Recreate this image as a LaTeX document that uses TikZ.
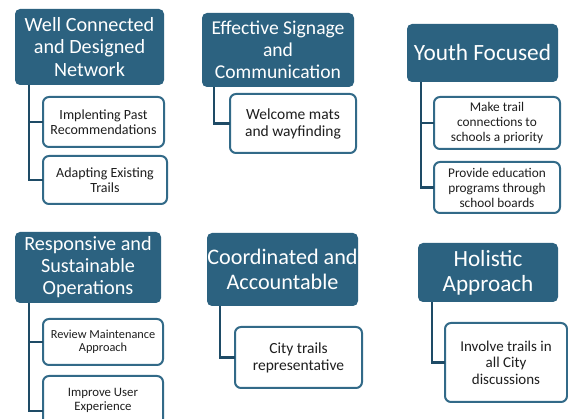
\documentclass[tikz,border=0pt]{standalone}
\usepackage{fontspec}
\setmainfont{Carlito}
\definecolor{hdr}{RGB}{44,98,128}
\definecolor{cbord}{RGB}{50,106,136}
\definecolor{conn}{RGB}{30,75,102}
\definecolor{ctext}{RGB}{30,30,30}
\tikzset{
  hdrbox/.style={fill=hdr, rounded corners=5pt, text=white, align=center, inner sep=0pt, outer sep=0pt},
  childbox/.style={draw=cbord, line width=2pt, fill=white, rounded corners=6pt, text=ctext, align=center, inner sep=0pt, outer sep=0pt},
  connline/.style={draw=conn, line width=2.6pt}
}
\begin{document}
\begin{tikzpicture}[x=1pt,y=-1pt]
\useasboundingbox (0,0) rectangle (568,419);
\clip (0,0) rectangle (568,419);
\fill[white] (0,0) rectangle (568,419);

% Column 1 top
\node[hdrbox, minimum width=149pt, minimum height=76pt, font=\fontsize{20.2}{22.5}\selectfont] (h1) at (89.5,47) {Well Connected\\and Designed\\Network};
\node[childbox, minimum width=121pt, minimum height=50pt, font=\fontsize{14}{15.5}\selectfont] (c1a) at (103.5,122) {Implenting Past\\Recommendations};
\node[childbox, minimum width=124pt, minimum height=48pt, font=\fontsize{14}{15.5}\selectfont] (c1b) at (105,180) {Adapting Existing\\Trails};
\draw[connline] ([xshift=14pt]h1.south west) |- (c1a.west);
\draw[connline] ([xshift=14pt]h1.south west) |- (c1b.west);

% Column 2 top
\node[hdrbox, minimum width=152pt, minimum height=74pt, font=\fontsize{19.6}{22}\selectfont] (h2) at (278,50) {Effective Signage\\and\\Communication};
\node[childbox, minimum width=126pt, minimum height=59pt, font=\fontsize{15.5}{17}\selectfont] (c2) at (293,123.5) {Welcome mats\\and wayfinding};
\draw[connline] ([xshift=12pt]h2.south west) |- (c2.west);

% Column 3 top
\node[hdrbox, minimum width=151pt, minimum height=58pt, font=\fontsize{23.3}{26}\selectfont] (h3) at (482.5,53) {Youth Focused};
\node[childbox, minimum width=126pt, minimum height=52pt, font=\fontsize{13.3}{15}\selectfont] (c3a) at (497,123) {Make trail\\connections to\\schools a priority};
\node[childbox, minimum width=126pt, minimum height=51pt, font=\fontsize{13.3}{15}\selectfont] (c3b) at (497,187.5) {Provide education\\programs through\\school boards};
\draw[connline] ([xshift=14pt]h3.south west) |- (c3a.west);
\draw[connline] ([xshift=14pt]h3.south west) |- (c3b.west);

% Column 1 bottom
\node[hdrbox, minimum width=146pt, minimum height=71pt, font=\fontsize{20.2}{22}\selectfont] (h4) at (88,267.5) {Responsive and\\Sustainable\\Operations};
\node[childbox, minimum width=120pt, minimum height=46pt, font=\fontsize{12.3}{13.5}\selectfont] (c4a) at (103,342) {Review Maintenance\\Approach};
\node[childbox, minimum width=120pt, minimum height=70pt] (c4b) at (103,411) {};
\node[text=ctext, align=center, font=\fontsize{12.8}{14}\selectfont] (c4bt) at (103,400) {Improve User\\Experience};
\draw[connline] ([xshift=14pt]h4.south west) |- (c4a.west);
\draw[connline] ([xshift=14pt]h4.south west) |- (c4b.west);

% Column 2 bottom
\node[hdrbox, minimum width=151pt, minimum height=73pt, font=\fontsize{22.2}{24.5}\selectfont] (h5) at (282.5,269.5) {Coordinated and\\Accountable};
\node[childbox, minimum width=127pt, minimum height=61pt, font=\fontsize{15.5}{17}\selectfont] (c5) at (298.5,357.5) {City trails\\representative};
\draw[connline] ([xshift=13pt]h5.south west) |- (c5.west);

% Column 3 bottom
\node[hdrbox, minimum width=140pt, minimum height=59pt, font=\fontsize{23.2}{25}\selectfont] (h6) at (488,272.5) {Holistic\\Approach};
\node[childbox, minimum width=122pt, minimum height=79pt, font=\fontsize{15}{16.5}\selectfont] (c6) at (506,362.5) {Involve trails in\\all City\\discussions};
\draw[connline] ([xshift=14pt]h6.south west) |- (c6.west);
\end{tikzpicture}
\end{document}
